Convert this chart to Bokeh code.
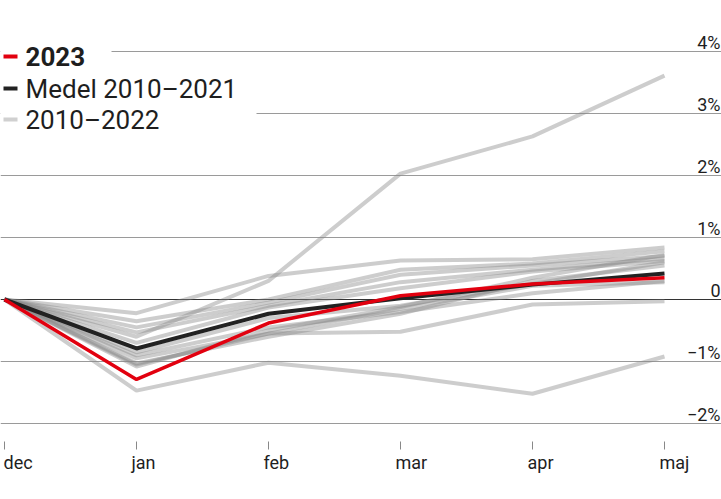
from bokeh.plotting import figure
from bokeh.models import Range1d, ColumnDataSource
from bokeh.core.properties import value
from bokeh.embed import file_html
from bokeh.resources import INLINE

# ---------------- data ----------------
months = ["dec", "jan", "feb", "mar", "apr", "maj"]
series_2023 = [0, -1.29, -0.38, 0.06, 0.25, 0.35]
mean_2010_2021 = [0, -0.79, -0.23, 0.02, 0.24, 0.42]

hist_a = [0, -0.60, 0.30, 2.03, 2.63, 3.61]
hist_b = [0, -1.47, -1.02, -1.23, -1.52, -0.92]
hist_c = [0, -0.22, 0.38, 0.63, 0.65, 0.84]
hist_d = [0, -1.05, -0.55, -0.52, -0.08, -0.03]
hist_e = [0, -0.35, 0.00, 0.48, 0.58, 0.78]
hist_f = [0, -0.45, -0.05, 0.40, 0.55, 0.70]
hist_g = [0, -0.53, -0.10, 0.28, 0.48, 0.66]
hist_h = [0, -0.70, -0.13, 0.18, 0.45, 0.62]
hist_i = [0, -0.85, -0.30, -0.10, 0.25, 0.60]
hist_j = [0, -0.90, -0.45, -0.20, 0.10, 0.30]
hist_k = [0, -0.95, -0.55, -0.15, 0.22, 0.28]
hist_l = [0, -1.03, -0.60, -0.23, 0.30, 0.55]
hist_m = [0, -1.08, -0.50, -0.12, 0.35, 0.72]
history = [hist_a, hist_b, hist_c, hist_d, hist_e, hist_f, hist_g,
           hist_h, hist_i, hist_j, hist_k, hist_l, hist_m]

y_ticks = [4, 3, 2, 1, 0, -1, -2]
y_tick_labels = ["4%", "3%", "2%", "1%", "0", "\u22121%", "\u22122%"]

legend_labels = ["2023", "Medel 2010\u20132021", "2010\u20132022"]

# ---------------- layout ----------------
W, H = 721, 499
X0_PX, STEP_PX = 4.0, 132.0          # dec position and month step in pixels
ZERO_PX, PCT_PX = 299.0, 62.0         # y of 0 and pixels per 1 %

x_start = -X0_PX / STEP_PX
x_end = (W - X0_PX) / STEP_PX
y_end = ZERO_PX / PCT_PX
y_start = -(H - ZERO_PX) / PCT_PX


def px_x(px):
    return x_start + px / STEP_PX


def px_y(py):
    return y_end - py / PCT_PX


FONT = value("Roboto")
TXT = "#1e1e1e"

p = figure(width=W, height=H, output_backend="svg", toolbar_location=None,
           x_range=Range1d(x_start, x_end), y_range=Range1d(y_start, y_end),
           min_border=0, min_border_left=0, min_border_right=0,
           min_border_top=0, min_border_bottom=0)
p.axis.visible = False
p.grid.visible = False
p.outline_line_color = None
p.background_fill_color = "white"
p.border_fill_color = "white"

xs = list(range(len(months)))

# gridlines
grid_y = [t for t in y_ticks if t != 0]
p.segment(x0=[px_x(0)] * len(grid_y), x1=[px_x(W)] * len(grid_y),
          y0=grid_y, y1=grid_y, line_color="#9a9a9a", line_width=1.2)
p.segment(x0=[px_x(0)], x1=[px_x(W)], y0=[0], y1=[0],
          line_color="#333333", line_width=1.2)

# white boxes behind legend entries (hide gridlines)
p.quad(left=[px_x(0), px_x(0)], right=[px_x(111), px_x(256)],
       top=[px_y(40), px_y(72)], bottom=[px_y(72), px_y(136)],
       fill_color="white", line_color=None)

# history lines
for h in history:
    p.line(xs, h, line_color="#888888", line_alpha=0.42, line_width=4)

# mean and 2023
p.line(xs, mean_2010_2021, line_color="#222222", line_width=4)
p.line(xs, series_2023, line_color="#e2000f", line_width=3.5)

# y tick labels (right side, just above gridlines)
p.text(x=[px_x(720)] * len(y_ticks),
       y=[t + 9 / PCT_PX for t in y_ticks],
       text=y_tick_labels, text_align="right", text_baseline="middle",
       text_font=FONT, text_font_size="18px", text_color=TXT)

# x ticks and labels
p.segment(x0=xs, x1=xs, y0=[px_y(441)] * len(xs), y1=[px_y(449)] * len(xs),
          line_color="#888888", line_width=1)
src = ColumnDataSource(dict(x=xs, y=[px_y(462)] * len(xs), t=months,
                            off=[-1] + [-5] * (len(xs) - 1)))
p.text(x="x", y="y", text="t", x_offset="off", source=src,
       text_align="left", text_baseline="middle",
       text_font=FONT, text_font_size="18px", text_color=TXT)

# legend
leg_colors = ["#e2000f", "#222222", "#d0d0d0"]
leg_mark_y = [56, 88, 119]
p.segment(x0=[px_x(3)] * 3, x1=[px_x(17)] * 3,
          y0=[px_y(v) for v in leg_mark_y], y1=[px_y(v) for v in leg_mark_y],
          line_color=leg_colors, line_width=4)
p.text(x=[px_x(25)], y=[px_y(leg_mark_y[0])], text=[legend_labels[0]],
       text_font=FONT, text_font_style="bold", text_font_size="26px",
       text_color=TXT, text_baseline="middle")
p.text(x=[px_x(25)] * 2, y=[px_y(v) for v in leg_mark_y[1:]],
       text=legend_labels[1:], text_font=FONT, text_font_size="26px",
       text_color=TXT, text_baseline="middle")

open("out.html", "w").write(file_html(p, INLINE))
